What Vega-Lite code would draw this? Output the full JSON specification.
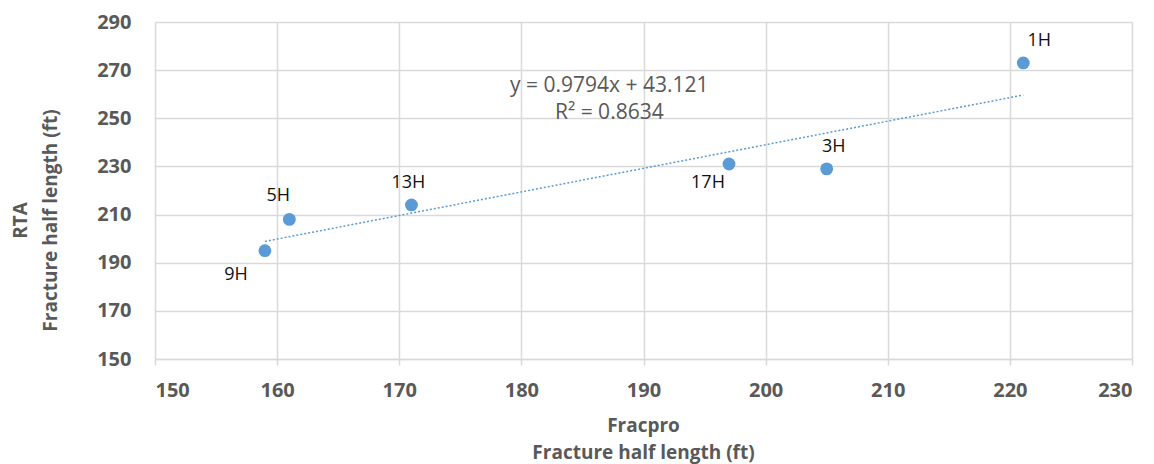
{
  "$schema": "https://vega.github.io/schema/vega-lite/v6.json",
  "width": 977,
  "height": 337,
  "autosize": "none",
  "padding": {"left": 155, "top": 22, "right": 22, "bottom": 105},
  "background": "white",
  "config": {
    "view": {"stroke": null},
    "font": "Open Sans"
  },
  "datasets": {
    "wells": [
      {"well": "1H", "fracpro": 221.1, "rta": 273},
      {"well": "3H", "fracpro": 205, "rta": 229},
      {"well": "17H", "fracpro": 197, "rta": 231},
      {"well": "13H", "fracpro": 171, "rta": 214},
      {"well": "5H", "fracpro": 161, "rta": 208},
      {"well": "9H", "fracpro": 159, "rta": 195}
    ],
    "trend": [
      {"fracpro": 159, "rta": 198.85},
      {"fracpro": 221.1, "rta": 259.67}
    ],
    "note": [
      {"fracpro": 187.2, "rta": 263.3, "text": "y = 0.9794x + 43.121"},
      {"fracpro": 187.2, "rta": 252.1, "text": "R² = 0.8634"}
    ]
  },
  "layer": [
    {
      "data": {"name": "trend"},
      "mark": {"type": "line", "color": "#5B9BD5", "strokeWidth": 1.5, "strokeDash": [2, 2]},
      "encoding": {
        "x": {
          "field": "fracpro", "type": "quantitative",
          "scale": {"domain": [150, 230], "nice": false, "zero": false},
          "axis": {
            "values": [150, 160, 170, 180, 190, 200, 210, 220, 230],
            "title": ["Fracpro", "Fracture half length (ft)"],
            "titleFont": "Open Sans", "titleFontSize": 19, "titleFontWeight": "bold",
            "titleColor": "#595959", "titleLineHeight": 27, "titleBaseline": "top",
            "titleY": 57, "titleX": 488,
            "labelFont": "Open Sans", "labelFontSize": 20, "labelFontWeight": "bold",
            "labelColor": "#595959", "labelPadding": 15,
            "domainColor": "#d9d9d9", "domainWidth": 1.5,
            "tickColor": "#d9d9d9", "tickWidth": 1.5, "tickSize": 6,
            "gridColor": "#d9d9d9", "gridWidth": 1.5
          }
        },
        "y": {
          "field": "rta", "type": "quantitative",
          "scale": {"domain": [150, 290], "nice": false, "zero": false},
          "axis": {
            "values": [150, 170, 190, 210, 230, 250, 270, 290],
            "title": ["RTA", "Fracture half length (ft)"],
            "titleFont": "Open Sans", "titleFontSize": 19, "titleFontWeight": "bold",
            "titleColor": "#595959", "titleLineHeight": 30, "titleAngle": -90,
            "titleBaseline": "bottom", "titleX": -125, "titleY": 198, "titleAlign": "center",
            "labelFont": "Open Sans", "labelFontSize": 20, "labelFontWeight": "bold",
            "labelColor": "#595959", "labelPadding": 24,
            "domain": false, "ticks": false,
            "gridColor": "#d9d9d9", "gridWidth": 1.5
          }
        }
      }
    },
    {
      "data": {"name": "wells"},
      "mark": {"type": "circle", "size": 165, "color": "#5B9BD5", "opacity": 1},
      "encoding": {
        "x": {"field": "fracpro", "type": "quantitative"},
        "y": {"field": "rta", "type": "quantitative"}
      }
    },
    {
      "data": {"name": "wells"},
      "transform": [{"filter": "datum.well == '13H'"}],
      "mark": {"type": "text", "fontSize": 18, "color": "#111111", "dy": -22, "dx": -3, "baseline": "middle", "align": "center"},
      "encoding": {
        "x": {"field": "fracpro", "type": "quantitative"},
        "y": {"field": "rta", "type": "quantitative"},
        "text": {"field": "well"}
      }
    },
    {
      "data": {"name": "wells"},
      "transform": [{"filter": "datum.well == '5H'"}],
      "mark": {"type": "text", "fontSize": 18, "color": "#111111", "dy": -23, "dx": -11, "baseline": "middle", "align": "center"},
      "encoding": {
        "x": {"field": "fracpro", "type": "quantitative"},
        "y": {"field": "rta", "type": "quantitative"},
        "text": {"field": "well"}
      }
    },
    {
      "data": {"name": "wells"},
      "transform": [{"filter": "datum.well == '3H'"}],
      "mark": {"type": "text", "fontSize": 18, "color": "#111111", "dy": -22, "dx": 7, "baseline": "middle", "align": "center"},
      "encoding": {
        "x": {"field": "fracpro", "type": "quantitative"},
        "y": {"field": "rta", "type": "quantitative"},
        "text": {"field": "well"}
      }
    },
    {
      "data": {"name": "wells"},
      "transform": [{"filter": "datum.well == '1H'"}],
      "mark": {"type": "text", "fontSize": 18, "color": "#111111", "dy": -22, "dx": 16, "baseline": "middle", "align": "center"},
      "encoding": {
        "x": {"field": "fracpro", "type": "quantitative"},
        "y": {"field": "rta", "type": "quantitative"},
        "text": {"field": "well"}
      }
    },
    {
      "data": {"name": "wells"},
      "transform": [{"filter": "datum.well == '9H'"}],
      "mark": {"type": "text", "fontSize": 18, "color": "#111111", "dy": 24, "dx": -29, "baseline": "middle", "align": "center"},
      "encoding": {
        "x": {"field": "fracpro", "type": "quantitative"},
        "y": {"field": "rta", "type": "quantitative"},
        "text": {"field": "well"}
      }
    },
    {
      "data": {"name": "wells"},
      "transform": [{"filter": "datum.well == '17H'"}],
      "mark": {"type": "text", "fontSize": 18, "color": "#111111", "dy": 19, "dx": -21, "baseline": "middle", "align": "center"},
      "encoding": {
        "x": {"field": "fracpro", "type": "quantitative"},
        "y": {"field": "rta", "type": "quantitative"},
        "text": {"field": "well"}
      }
    },
    {
      "data": {"name": "note"},
      "mark": {"type": "text", "fontSize": 21, "color": "#595959", "baseline": "middle", "align": "center"},
      "encoding": {
        "x": {"field": "fracpro", "type": "quantitative"},
        "y": {"field": "rta", "type": "quantitative"},
        "text": {"field": "text"}
      }
    }
  ]
}
